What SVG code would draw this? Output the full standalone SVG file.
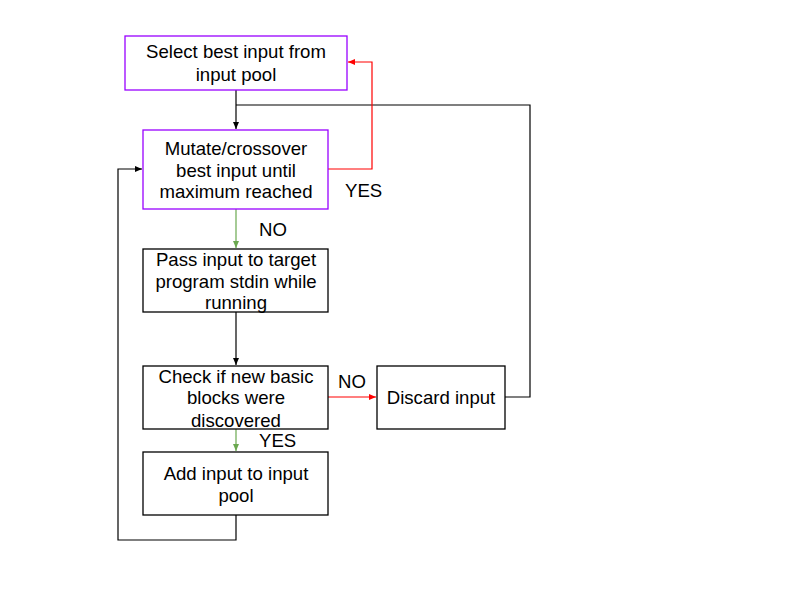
<svg xmlns="http://www.w3.org/2000/svg" width="800" height="600" viewBox="0 0 800 600">
<style>
text{font-family:"Liberation Sans",Arial,sans-serif;font-size:18.6px;fill:#000}
.c{text-anchor:middle}
.p{fill:#fff;stroke:#9900ff;stroke-width:1.3}
.b{fill:#fff;stroke:#000;stroke-width:1.3}
.k{fill:none;stroke:#000;stroke-width:1.2}
.r{fill:none;stroke:#ff0000;stroke-width:1.2}
.g{fill:none;stroke:#6aa84f;stroke-width:1.2}
</style>
<defs>
<marker id="ak" markerWidth="8" markerHeight="8" refX="7" refY="4" orient="auto" markerUnits="userSpaceOnUse"><path d="M0,1 L7,4 L0,7 Z" fill="#000"/></marker>
<marker id="ar" markerWidth="8" markerHeight="8" refX="7" refY="4" orient="auto" markerUnits="userSpaceOnUse"><path d="M0,1 L7,4 L0,7 Z" fill="#ff0000"/></marker>
<marker id="ag" markerWidth="8" markerHeight="8" refX="7" refY="4" orient="auto" markerUnits="userSpaceOnUse"><path d="M0,1 L7,4 L0,7 Z" fill="#6aa84f"/></marker>
</defs>
<rect width="800" height="600" fill="#fff"/>
<g id="connectors">
<path class="k" d="M236,90 V129" marker-end="url(#ak)"/>
<path class="k" d="M505,397 H530 V105 H236"/>
<path class="r" d="M328,169 H372 V62 H348" marker-end="url(#ar)"/>
<path class="g" d="M236,209 V248" marker-end="url(#ag)"/>
<path class="k" d="M236,312 V365" marker-end="url(#ak)"/>
<path class="r" d="M328,397 H376" marker-end="url(#ar)"/>
<path class="g" d="M236,429 V451" marker-end="url(#ag)"/>
<path class="k" d="M236,515 V540 H118 V169 H142" marker-end="url(#ak)"/>
<text x="345" y="197">YES</text>
<text x="259" y="236">NO</text>
<text x="338" y="388">NO</text>
<text x="259" y="447">YES</text>
</g>
<g id="n1"><rect class="p" x="125" y="36" width="222" height="54"/>
<text class="c" x="236" y="58">Select best input from</text><text class="c" x="236" y="81">input pool</text></g>
<g id="n2"><rect class="p" x="143" y="130" width="185" height="79"/>
<text class="c" x="236" y="155">Mutate/crossover</text><text class="c" x="236" y="177">best input until</text><text class="c" x="236" y="198">maximum reached</text></g>
<g id="n3"><rect class="b" x="143" y="249" width="185" height="63"/>
<text class="c" x="236" y="266">Pass input to target</text><text class="c" x="236" y="288">program stdin while</text><text class="c" x="236" y="309">running</text></g>
<g id="n4"><rect class="b" x="143" y="366" width="185" height="63"/>
<text class="c" x="236" y="383">Check if new basic</text><text class="c" x="236" y="404">blocks were</text><text class="c" x="236" y="427">discovered</text></g>
<g id="n5"><rect class="b" x="143" y="452" width="185" height="63"/>
<text class="c" x="236" y="480">Add input to input</text><text class="c" x="236" y="502">pool</text></g>
<g id="n6"><rect class="b" x="377" y="366" width="128" height="63"/>
<text class="c" x="441" y="404">Discard input</text></g>
</svg>
